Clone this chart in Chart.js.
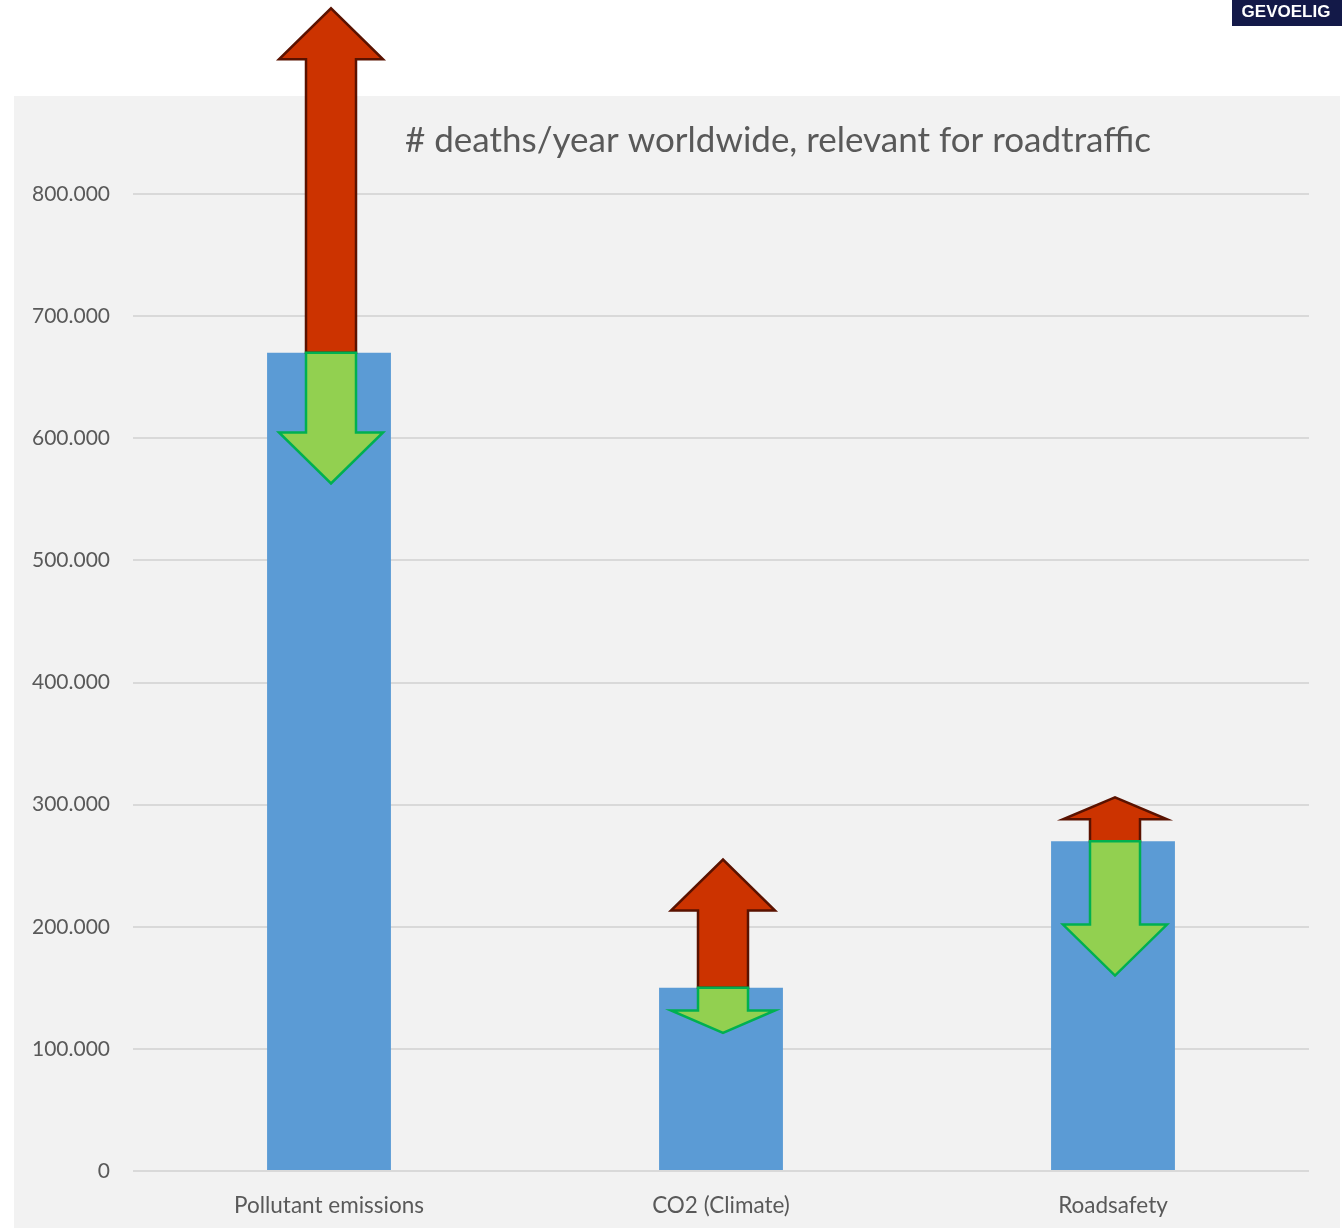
<!DOCTYPE html>
<html>
<head>
<meta charset="utf-8">
<script src="https://cdn.jsdelivr.net/npm/chart.js@4.4.1/dist/chart.umd.min.js"></script>
<style>
  html, body { margin: 0; padding: 0; background: #ffffff; overflow: hidden; }
  #wrap { width: 1342px; height: 1229px; position: relative; }
</style>
</head>
<body>
<div id="wrap"><canvas id="myChart"></canvas></div>
<script>
const categories = ["Pollutant emissions", "CO2 (Climate)", "Roadsafety"];
const deaths = [670000, 150000, 270000];
// arrow tips (same unit as deaths): red = possible increase, green = possible decrease
const upTips = [952000, 255000, 306000];
const downTips = [563000, 113000, 160000];
const yTicks = [0, 100000, 200000, 300000, 400000, 500000, 600000, 700000, 800000];

const FONT = "Lato, 'Open Sans', sans-serif";
const GREY = "#595959";

function fmt(v) {
  return String(v).replace(/\B(?=(\d{3})+(?!\d))/g, ".");
}

function drawArrow(ctx, x, y0, y1, fill, stroke) {
  const shaft = 50, head = 104, maxHead = 51;
  const dir = y1 > y0 ? 1 : -1;
  const len = Math.abs(y1 - y0);
  const h = Math.min(maxHead, len / 2);
  const yb = y1 - dir * h;
  ctx.save();
  ctx.beginPath();
  ctx.moveTo(x - shaft / 2, y0);
  ctx.lineTo(x - shaft / 2, yb);
  ctx.lineTo(x - head / 2, yb);
  ctx.lineTo(x, y1);
  ctx.lineTo(x + head / 2, yb);
  ctx.lineTo(x + shaft / 2, yb);
  ctx.lineTo(x + shaft / 2, y0);
  ctx.closePath();
  ctx.fillStyle = fill;
  ctx.fill();
  ctx.lineWidth = 2.5;
  ctx.lineJoin = "miter";
  ctx.strokeStyle = stroke;
  ctx.stroke();
  ctx.restore();
}

const decor = {
  id: "decor",
  beforeDraw(chart) {
    const ctx = chart.ctx;
    ctx.save();
    ctx.fillStyle = "#f2f2f2";
    ctx.fillRect(14, 96, 1326, 1132);
    ctx.restore();
  },
  afterDatasetsDraw(chart) {
    const ctx = chart.ctx;
    const xs = chart.scales.x, ys = chart.scales.y;
    deaths.forEach((d, i) => {
      const x = xs.getPixelForValue(i) + 2;
      const yb = ys.getPixelForValue(d);
      drawArrow(ctx, x, yb, ys.getPixelForValue(upTips[i]), "#cc3300", "#5a1200");
      drawArrow(ctx, x, yb, ys.getPixelForValue(downTips[i]), "#92d050", "#00b050");
    });
  },
  afterDraw(chart) {
    const ctx = chart.ctx;
    ctx.save();
    // title
    ctx.fillStyle = GREY;
    ctx.font = "35px " + FONT;
    ctx.textAlign = "center";
    ctx.textBaseline = "middle";
    ctx.fillText("# deaths/year worldwide, relevant for roadtraffic", 778, 141);
    // badge
    ctx.fillStyle = "#131948";
    ctx.fillRect(1232, 0, 110, 26);
    ctx.fillStyle = "#ffffff";
    ctx.font = "bold 17px 'Liberation Sans', Arial, sans-serif";
    ctx.fillText("GEVOELIG", 1286, 12);
    ctx.restore();
  }
};

const ctx1 = document.getElementById("myChart");
new Chart(ctx1, {
  type: "bar",
  data: {
    labels: categories,
    datasets: [{
      label: "deaths",
      data: deaths,
      backgroundColor: "#5b9bd5",
      barPercentage: 1,
      categoryPercentage: 0.316
    }]
  },
  options: {
    responsive: true,
    maintainAspectRatio: false,
    animation: false,
    layout: { padding: { left: 13, right: 33, top: 194, bottom: 0 } },
    plugins: {
      legend: { display: false },
      tooltip: { enabled: false }
    },
    scales: {
      x: {
        grid: { display: false },
        border: { display: false },
        ticks: { color: GREY, font: { family: FONT, size: 22.5 }, padding: 13 },
        afterFit(scale) { scale.height = 58; }
      },
      y: {
        min: 0,
        max: 800000,
        afterBuildTicks(scale) { scale.ticks = yTicks.map(v => ({ value: v })); },
        grid: { color: "#d9d9d9", lineWidth: 2, drawTicks: false },
        border: { display: false },
        ticks: { color: GREY, font: { family: FONT, size: 21 }, padding: 23, callback: v => fmt(v) },
        afterFit(scale) { scale.width = 120; }
      }
    }
  },
  plugins: [decor]
});
</script>
</body>
</html>
